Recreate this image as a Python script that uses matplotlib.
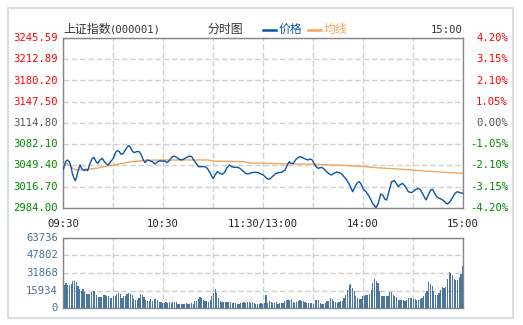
import numpy as np
import matplotlib
matplotlib.use("Agg")
import matplotlib.pyplot as plt
from matplotlib.patches import Rectangle

plt.rcParams['font.family'] = ['Noto Sans CJK SC', 'DejaVu Sans']

# price axis levels (left) and percent change (right)
PRICE_TICKS = [3245.59, 3212.89, 3180.20, 3147.50, 3114.80, 3082.10, 3049.40, 3016.70, 2984.00]
PCT_LABELS = ["4.20%", "3.15%", "2.10%", "1.05%", "0.00%", "-1.05%", "-2.10%", "-3.15%", "-4.20%"]
VOL_TICKS = [63736, 47802, 31868, 15934, 0]
TIME_LABELS = ["09:30", "10:30", "11:30/13:00", "14:00", "15:00"]
TIME_LABEL_POS = [0, 60, 120, 180, 240]

# price line (minute from 09:30, index value)
price_min = [0.2, 1.6, 2.6, 3.8, 4.8, 5.6, 6.6, 7.4, 8.2, 9.2, 10.2, 11.2, 12.6, 13.8, 14.8,
             16.2, 17.6, 18.6, 19.8, 20.8, 22.2, 23.6, 24.8, 26.2, 27.2, 28.6, 30.2, 31.6,
             32.6, 33.8, 34.8, 36.2, 37.6, 39.2, 40.2, 41.2, 42.6, 44.2, 45.8, 46.8, 48.2,
             49.2, 50.6, 51.8, 53.6, 55.2, 56.6, 58.2, 59.8, 61.0, 62.2, 63.8, 65.2, 66.6,
             68.2, 69.8, 71.2, 72.6, 74.2, 75.8, 77.2, 78.2, 79.8, 81.2, 83.2, 85.2, 86.6,
             88.2, 89.4, 90.2, 91.2, 92.6, 94.2, 95.6, 96.8, 98.2, 99.8, 101.2, 102.6, 104.6,
             106.2, 107.8, 109.6, 111.2, 113.2, 115.2, 117.2, 118.8, 120.2, 122.2, 123.8,
             125.2, 127.2, 129.2, 131.2, 133.2, 134.6, 135.8, 136.8, 138.2, 139.8, 141.2,
             142.6, 144.2, 145.8, 147.2, 148.2, 149.6, 150.6, 151.8, 153.2, 154.8, 156.2,
             158.2, 159.8, 161.2, 162.6, 164.2, 165.8, 167.2, 168.6, 170.2, 171.8, 172.8,
             173.8, 175.2, 176.6, 177.8, 178.8, 180.2, 181.8, 183.8, 185.8, 187.8, 189.2,
             190.6, 191.8, 193.2, 194.2, 195.8, 197.2, 198.8, 200.2, 201.2, 202.2, 203.6,
             205.2, 207.2, 209.2, 211.2, 213.2, 214.6, 216.2, 217.8, 219.2, 220.6, 221.8,
             223.2, 224.6, 226.0, 227.2, 228.6, 229.8, 230.8, 232.2, 233.8, 235.2, 236.6,
             238.2, 240.0]
price_val = [3043.5, 3055.3, 3057.9, 3055.3, 3047.6, 3037.3, 3029.7, 3026.1, 3032.2, 3042.5,
             3050.2, 3045.0, 3041.4, 3043.5, 3041.4, 3052.7, 3060.4, 3061.9, 3055.3, 3052.7,
             3057.9, 3060.4, 3055.3, 3051.7, 3050.2, 3055.3, 3060.4, 3069.7, 3072.2, 3070.7,
             3066.6, 3068.1, 3074.3, 3079.9, 3078.4, 3073.3, 3069.1, 3070.7, 3070.7, 3066.6,
             3057.9, 3053.8, 3057.9, 3056.8, 3055.3, 3051.7, 3054.8, 3056.8, 3055.8, 3056.8,
             3053.7, 3056.8, 3061.9, 3064.0, 3061.9, 3058.9, 3057.9, 3059.4, 3061.9, 3064.0,
             3063.0, 3058.9, 3052.7, 3047.6, 3047.6, 3047.6, 3045.0, 3038.4, 3032.2, 3029.6,
             3034.8, 3039.9, 3037.3, 3035.8, 3038.4, 3045.0, 3050.2, 3047.6, 3046.6, 3046.6,
             3045.0, 3041.4, 3037.3, 3036.3, 3038.4, 3038.9, 3038.4, 3036.3, 3034.8, 3029.6,
             3028.1, 3031.2, 3036.3, 3038.4, 3038.9, 3042.5, 3050.2, 3055.3, 3052.7, 3052.7,
             3058.9, 3061.9, 3063.0, 3060.9, 3058.9, 3057.9, 3059.4, 3057.9, 3052.7, 3047.6,
             3045.0, 3046.6, 3045.0, 3039.9, 3036.3, 3034.8, 3037.3, 3039.4, 3038.4, 3036.3,
             3032.2, 3027.1, 3020.4, 3014.3, 3009.1, 3016.8, 3023.0, 3024.5, 3020.9, 3012.7,
             3009.1, 3001.4, 2991.2, 2984.5, 2991.2, 3005.5, 3004.0, 2997.3, 2996.3, 3011.7,
             3024.5, 3026.1, 3020.9, 3016.8, 3019.4, 3021.9, 3017.8, 3009.1, 3007.6, 3011.7,
             3014.3, 3011.7, 3004.0, 2996.3, 3004.0, 3011.7, 3012.7, 3005.5, 3000.4, 2998.9,
             2997.3, 2994.8, 2991.2, 2990.2, 2993.7, 3000.4, 3006.6, 3009.1, 3007.6, 3006.6]

# average line
avg_min = [0, 2, 5, 7, 10, 15, 20, 28, 35, 42, 50, 60, 75, 87, 90, 109, 112, 120, 138, 150,
           163, 174, 180, 188, 198, 210, 218, 225, 232, 240]
avg_val = [3049.4, 3053.0, 3047.0, 3043.0, 3042.5, 3043.5, 3045.0, 3049.2, 3052.5, 3055.5,
           3057.5, 3057.9, 3057.9, 3057.9, 3056.3, 3055.3, 3053.3, 3052.8, 3051.7, 3051.5,
           3050.2, 3048.8, 3047.8, 3046.0, 3044.5, 3042.5, 3040.5, 3039.7, 3038.4, 3037.4]

# per-minute volume bars
volume = [21200, 22800, 20600, 21200, 22200, 24900, 24900, 23700, 20300, 17600,
          15200, 17600, 14300, 13100, 13100, 13100, 14600, 15200, 15800, 12100,
          9700, 9700, 9700, 11500, 12100, 11200, 11200, 9100, 9100, 10600,
          11200, 13100, 13700, 13100, 9100, 10600, 11200, 12700, 13700, 12700,
          11500, 8200, 7600, 7600, 9100, 12700, 12100, 9700, 7300, 6700,
          6700, 8200, 6100, 8200, 8200, 7000, 5200, 5200, 4600, 4600,
          5200, 4600, 5200, 4600, 5500, 5500, 5500, 3900, 3900, 3900,
          3900, 3900, 4600, 3900, 3900, 4900, 3900, 6100, 6100, 8500,
          9700, 9100, 7000, 6100, 6100, 5200, 7000, 11200, 13700, 17300,
          13700, 9100, 6700, 5200, 5200, 5200, 5500, 5500, 5200, 4600,
          4600, 4600, 3900, 3600, 4600, 4600, 5200, 4600, 5200, 5200,
          4600, 5200, 4600, 3900, 3900, 3900, 4600, 3600, 4600, 12100,
          4600, 6100, 5200, 4600, 4600, 5200, 3600, 4600, 4600, 4600,
          6100, 7000, 7000, 7600, 8500, 5200, 4600, 5200, 6100, 7600,
          6700, 6100, 5200, 4600, 4600, 4600, 4600, 3900, 7000, 7600,
          7000, 4600, 3900, 3900, 4600, 6100, 6700, 9100, 8200, 6100,
          5200, 4600, 5200, 6100, 6100, 9100, 12100, 16700, 21200, 21900,
          18200, 15200, 10600, 9100, 8500, 8500, 10600, 11200, 12100, 12100,
          13100, 16700, 22800, 26400, 24900, 22800, 15200, 10600, 10600, 10600,
          11200, 11200, 14600, 14600, 12100, 10600, 10000, 7600, 7000, 7000,
          7000, 6100, 7000, 9100, 9100, 9100, 8200, 8200, 7600, 7600,
          8200, 9100, 11200, 13700, 15200, 23700, 21900, 20300, 15200, 12100,
          12100, 13700, 16700, 18800, 18200, 18800, 26700, 32800, 31900, 30400,
          26400, 25200, 25800, 27900, 31000, 37900]

RED = "#ff0000"
GREEN = "#008800"
GREY_TXT = "#555555"
BLUE = "#0a55a8"
ORANGE = "#f5a55a"
VOL_BLUE = "#4a76a0"
VOL_TXT = "#4a6f92"
GRID = "#d0d0d0"
SPINE = "#858585"

W, H = 523, 325
fig = plt.figure(figsize=(W / 100, H / 100), dpi=100)
fig.patch.set_facecolor("white")


def fx(px):
    return px / W


def fy(py):
    return 1 - py / H


# outer frame
fig.patches.append(Rectangle((fx(7.5), fy(318)), fx(505.5), (310.5) / H, transform=fig.transFigure,
                             fill=False, edgecolor="#cfd8de", linewidth=1.2))

L, R = 63, 463
ax = fig.add_axes([fx(L), fy(208), fx(R - L), (208 - 38) / H])
axv = fig.add_axes([fx(L), fy(308), fx(R - L), (308 - 238) / H])

for a in (ax, axv):
    a.set_xlim(0, 240)
    a.set_xticks(np.arange(0, 241, 30))
    a.tick_params(length=0, labelbottom=False, labelleft=False)
    a.grid(True, color=GRID, linestyle=(0, (4, 2)), linewidth=1.0)
    a.set_axisbelow(True)
    for s in a.spines.values():
        s.set_color(SPINE)
        s.set_linewidth(1.0)

ax.set_ylim(PRICE_TICKS[-1], PRICE_TICKS[0])
ax.set_yticks(PRICE_TICKS)
ax.plot(avg_min, avg_val, color=ORANGE, linewidth=1.0, zorder=3)
ax.plot(price_min, price_val, color=BLUE, linewidth=1.0, zorder=4)

n = len(volume)
vol_x = (np.arange(n) + 0.8) * 240 / n
axv.bar(vol_x, volume, width=0.7 * 240 / n, color=VOL_BLUE, linewidth=0, zorder=3)
axv.set_ylim(0, VOL_TICKS[0])
axv.set_yticks(VOL_TICKS)

mono = "DejaVu Sans Mono"
fs = 7.6

# left and right price labels
for i, (p, pct) in enumerate(zip(PRICE_TICKS, PCT_LABELS)):
    col = RED if i < 4 else (GREY_TXT if i == 4 else GREEN)
    y = 38 + i * (170 / 8)
    fig.text(fx(58), fy(y), f"{p:.2f}", color=col, fontsize=fs, family=mono, ha="right", va="center")
    fig.text(fx(508), fy(y), pct, color=col, fontsize=fs, family=mono, ha="right", va="center")

# volume labels
for i, v in enumerate(VOL_TICKS):
    y = 238 + i * (70 / 4)
    fig.text(fx(58), fy(y), str(v), color=VOL_TXT, fontsize=fs, family=mono, ha="right", va="center")

# time labels
for lab, m in zip(TIME_LABELS, TIME_LABEL_POS):
    fig.text(fx(L + m * 400 / 240), fy(224), lab, color="#222222", fontsize=fs, family=mono,
             ha="center", va="center")

# header
fig.text(fx(63), fy(29), "上证指数", color="#333333", fontsize=8.6, ha="left", va="center")
fig.text(fx(110), fy(29.5), "(000001)", color="#333333", fontsize=fs, family=mono, ha="left", va="center")
fig.text(fx(225), fy(29), "分时图", color="#333333", fontsize=8.6, ha="center", va="center")
fig.add_artist(plt.Line2D([fx(263), fx(276)], [fy(30), fy(30)], color=BLUE, linewidth=1.8))
fig.text(fx(279), fy(29), "价格", color=BLUE, fontsize=8.6, ha="left", va="center")
fig.add_artist(plt.Line2D([fx(308), fx(321)], [fy(30), fy(30)], color=ORANGE, linewidth=1.8))
fig.text(fx(324), fy(29), "均线", color=ORANGE, fontsize=8.6, ha="left", va="center")
fig.text(fx(463), fy(30), "15:00", color="#333333", fontsize=fs, family=mono, ha="right", va="center")

fig.savefig("out.png", dpi=100, facecolor="white")
